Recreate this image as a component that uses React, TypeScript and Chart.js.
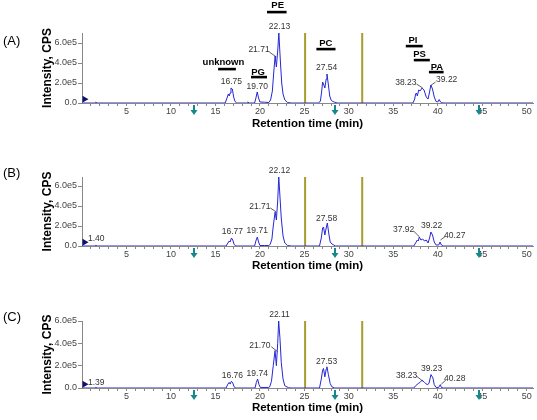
import React, { useEffect, useRef } from "react";
import { Chart, registerables } from "chart.js";

Chart.register(...registerables);

const FONT = '"Liberation Sans", Arial, sans-serif';

// ---------- data (intensity in units of 1e5 CPS, time in min) ----------
const traceA: [number, number][] = [
  [0, 0], [1.4, 0], [1.55, 0.08], [1.7, 0], [16.1, 0], [16.3, 0.5], [16.45, 0.9], [16.55, 0.7],
  [16.65, 1.0], [16.75, 1.5], [16.9, 1.4], [17.05, 0.6], [17.2, 0.15], [17.4, 0], [18.5, 0],
  [18.65, 0.1], [18.8, 0], [19.4, 0], [19.55, 0.5], [19.7, 1.1], [19.85, 0.5], [20.0, 0.1],
  [20.5, 0.08], [21.0, 0.05], [21.2, 0.3], [21.4, 1.2], [21.55, 3.0], [21.71, 4.7], [21.85, 3.6],
  [22.0, 5.2], [22.13, 7.0], [22.3, 4.2], [22.45, 2.0], [22.6, 0.9], [22.8, 0.3], [23.1, 0.05],
  [23.5, 0], [26.6, 0], [26.8, 0.2], [26.95, 1.2], [27.05, 2.1], [27.15, 1.9], [27.3, 1.5],
  [27.45, 2.4], [27.54, 2.9], [27.7, 1.8], [27.85, 0.7], [28.0, 0.3], [28.2, 0.15], [28.4, 0.08],
  [28.7, 0], [37.2, 0], [37.4, 0.4], [37.5, 0.9], [37.6, 1.0], [37.7, 0.7], [37.85, 1.3],
  [38.0, 1.2], [38.23, 1.5], [38.45, 1.3], [38.7, 0.6], [38.9, 0.4], [39.05, 1.0], [39.22, 1.8],
  [39.4, 1.4], [39.6, 0.6], [39.8, 0.15], [40.0, 0.1], [40.15, 0.35], [40.3, 0.1], [40.45, 0.02],
  [40.7, 0], [50.7, 0],
];

const traceB: [number, number][] = [
  [0, 0], [1.4, 0], [1.55, 0.06], [1.7, 0], [16.2, 0], [16.4, 0.3], [16.55, 0.5], [16.65, 0.4],
  [16.8, 0.8], [16.95, 0.6], [17.1, 0.15], [17.3, 0], [19.4, 0], [19.58, 0.6], [19.71, 0.9],
  [19.85, 0.4], [20.0, 0.05], [20.5, 0.05], [21.0, 0.05], [21.15, 0.15], [21.35, 0.7], [21.5, 2.0],
  [21.71, 3.4], [21.85, 2.6], [22.0, 4.5], [22.12, 6.9], [22.25, 5.0], [22.4, 2.8], [22.6, 1.0],
  [22.8, 0.3], [23.1, 0.05], [23.5, 0], [26.7, 0], [26.9, 0.8], [27.05, 1.8], [27.15, 1.9],
  [27.3, 1.1], [27.45, 1.8], [27.58, 2.3], [27.75, 1.2], [27.9, 0.4], [28.1, 0.2], [28.3, 0.1],
  [28.5, 0], [37.3, 0], [37.5, 0.3], [37.7, 0.6], [37.8, 0.5], [37.92, 0.9], [38.1, 0.6],
  [38.3, 0.7], [38.5, 0.5], [38.7, 0.6], [38.9, 0.3], [39.1, 0.9], [39.22, 1.4], [39.4, 1.1],
  [39.6, 0.4], [39.8, 0.1], [40.1, 0.1], [40.25, 0.4], [40.4, 0.1], [40.6, 0], [50.7, 0],
];

const traceC: [number, number][] = [
  [0, 0], [1.4, 0], [1.55, 0.05], [1.7, 0], [16.2, 0], [16.4, 0.35], [16.55, 0.5], [16.65, 0.35],
  [16.8, 0.6], [16.95, 0.45], [17.1, 0.1], [17.3, 0], [19.45, 0], [19.6, 0.5], [19.74, 0.8],
  [19.9, 0.3], [20.05, 0.05], [21.0, 0.05], [21.1, 0.1], [21.3, 0.6], [21.5, 2.0], [21.7, 3.35],
  [21.85, 2.0], [22.0, 4.0], [22.11, 6.0], [22.25, 4.5], [22.4, 2.3], [22.6, 0.8], [22.8, 0.2],
  [23.2, 0.03], [23.5, 0], [26.7, 0], [26.9, 0.8], [27.05, 1.6], [27.15, 1.75], [27.3, 1.0],
  [27.45, 1.7], [27.53, 1.9], [27.7, 1.2], [27.9, 0.4], [28.1, 0.1], [28.4, 0], [37.3, 0],
  [37.5, 0.2], [37.8, 0.4], [38.0, 0.5], [38.23, 0.7], [38.5, 0.5], [38.8, 0.3], [39.0, 0.4],
  [39.23, 1.2], [39.45, 0.9], [39.6, 0.3], [39.8, 0.05], [40.1, 0.05], [40.28, 0.3], [40.4, 0.05],
  [40.6, 0], [50.7, 0],
];

// peak labels: [text, x, y]
const peakLabelsA: [string, number, number][] = [
  ["16.75", 16.8, 2.1], ["19.70", 19.7, 1.6], ["21.71", 19.9, 5.3], ["22.13", 22.2, 7.6],
  ["27.54", 27.5, 3.5], ["38.23", 36.4, 2.0], ["39.22", 41.0, 2.3],
];
const peakLabelsB: [string, number, number][] = [
  ["1.40", 1.6, 0.7], ["16.77", 16.9, 1.4], ["19.71", 19.7, 1.5], ["21.71", 20.0, 3.9],
  ["22.12", 22.2, 7.5], ["27.58", 27.5, 2.7], ["37.92", 36.15, 1.6], ["39.22", 39.3, 2.0],
  ["40.27", 41.9, 1.0],
];
const peakLabelsC: [string, number, number][] = [
  ["1.39", 1.6, 0.45], ["16.76", 16.9, 1.15], ["19.74", 19.7, 1.24], ["21.70", 20.0, 3.8],
  ["22.11", 22.2, 6.6], ["27.53", 27.5, 2.4], ["38.23", 36.5, 1.15], ["39.23", 39.3, 1.77],
  ["40.28", 41.9, 0.8],
];

// leader lines: [x1, y1, x2, y2]
const leadersA: [number, number, number, number][] = [
  [21.06, 5.1, 21.85, 4.6], [37.6, 1.9, 38.3, 1.5], [39.75, 2.1, 39.2, 1.75],
];
const leadersB: [number, number, number, number][] = [
  [21.17, 3.8, 21.85, 3.4], [37.27, 1.5, 37.95, 0.9], [40.3, 0.6, 40.9, 1.0],
];
const leadersC: [number, number, number, number][] = [
  [21.28, 3.7, 21.96, 3.27], [37.6, 1.07, 38.3, 0.62], [40.4, 0.35, 40.9, 0.7],
];

// lipid class labels (panel A): [text, textX, textY, barX1, barX2, barY]
const classLabelsA: [string, number, number, number, number, number][] = [
  ["unknown", 15.9, 4.1, 15.3, 17.3, 3.4],
  ["PG", 19.8, 3.1, 19.0, 20.8, 2.6],
  ["PE", 22.0, 9.8, 20.8, 23.0, 9.1],
  ["PC", 27.4, 6.0, 26.35, 28.5, 5.4],
  ["PI", 37.2, 6.3, 36.4, 38.3, 5.7],
  ["PS", 37.95, 4.9, 37.3, 39.1, 4.3],
  ["PA", 39.9, 3.6, 39.0, 40.65, 3.1],
];

const dividerTimes = [25.08, 31.5];
const arrowTimes = [12.6, 28.4, 44.6];
const xMajorTicks = [5, 10, 15, 20, 25, 30, 35, 40, 45, 50];
const xMinorTicks = Array.from({ length: 50 }, (_, i) => i + 1);
const yTicks = [0, 2, 4, 6];
const X_MAX = 50.7;

type PanelProps = {
  label: string;
  labelY: number;
  trace: [number, number][];
  peaks: [string, number, number][];
  leaders: [number, number, number, number][];
  classes: [string, number, number, number, number, number][];
  yMax: number;
  padTop: number;
  xHeight: number;
  titlePad: number;
  top: number;
};

function Panel(p: PanelProps) {
  const ref = useRef<HTMLCanvasElement>(null);
  useEffect(() => {
    if (!ref.current) return;
    const decor = {
      id: "decor",
      beforeDatasetsDraw(chart: any) {
        const { ctx, chartArea, scales } = chart;
        ctx.save();
        ctx.strokeStyle = "#a89c2c";
        ctx.lineWidth = 2;
        for (const t of dividerTimes) {
          const px = scales.x.getPixelForValue(t);
          ctx.beginPath();
          ctx.moveTo(px, chartArea.top);
          ctx.lineTo(px, chartArea.bottom);
          ctx.stroke();
        }
        ctx.restore();
      },
      afterDraw(chart: any) {
        const { ctx, chartArea, scales } = chart;
        const X = scales.x, Y = scales.y;
        ctx.save();
        // arrows
        ctx.fillStyle = "#16888a";
        ctx.strokeStyle = "#16888a";
        for (const t of arrowTimes) {
          const px = Math.round(X.getPixelForValue(t));
          const y0 = chartArea.bottom + 2;
          ctx.fillRect(px - 1, y0, 2, 6);
          ctx.beginPath();
          ctx.moveTo(px - 3.5, y0 + 5);
          ctx.lineTo(px + 3.5, y0 + 5);
          ctx.lineTo(px, y0 + 10);
          ctx.closePath();
          ctx.fill();
        }
        // panel label
        ctx.fillStyle = "#000";
        ctx.font = `13px ${FONT}`;
        ctx.textAlign = "left";
        ctx.textBaseline = "middle";
        ctx.fillText(p.label, 3, p.labelY);
        // peak labels
        ctx.fillStyle = "#333";
        ctx.font = `8.5px ${FONT}`;
        ctx.textAlign = "center";
        for (const [t, x, y] of p.peaks) {
          ctx.fillText(t, X.getPixelForValue(x), Y.getPixelForValue(y));
        }
        // leaders
        ctx.strokeStyle = "#333";
        ctx.lineWidth = 0.8;
        for (const [x1, y1, x2, y2] of p.leaders) {
          ctx.beginPath();
          ctx.moveTo(X.getPixelForValue(x1), Y.getPixelForValue(y1));
          ctx.lineTo(X.getPixelForValue(x2), Y.getPixelForValue(y2));
          ctx.stroke();
        }
        // class labels
        ctx.fillStyle = "#000";
        ctx.font = `bold 9.5px ${FONT}`;
        for (const [t, tx, ty, b1, b2, by] of p.classes) {
          ctx.fillText(t, X.getPixelForValue(tx), Y.getPixelForValue(ty));
          const py = Y.getPixelForValue(by);
          const x1 = X.getPixelForValue(b1), x2 = X.getPixelForValue(b2);
          ctx.fillRect(x1, py - 1.2, x2 - x1, 2.6);
        }
        ctx.restore();
      },
    };
    const chart = new Chart(ref.current, {
      type: "line",
      data: {
        datasets: [
          {
            data: p.trace.map(([x, y]) => ({ x, y })),
            borderColor: "#2626d6",
            borderWidth: 1,
            pointRadius: 0,
            tension: 0,
            fill: false,
          },
          {
            data: [{ x: 0.28, y: p.yMax * 0.055 }],
            showLine: false,
            pointStyle: "triangle",
            rotation: 90,
            pointRadius: 4,
            backgroundColor: "#10106e",
            borderColor: "#10106e",
            borderWidth: 0,
            clip: false,
          } as any,
        ],
      },
      options: {
        animation: false,
        responsive: false,
        maintainAspectRatio: false,
        layout: { padding: { top: p.padTop, right: 4, left: 0, bottom: 0 } },
        plugins: { legend: { display: false }, tooltip: { enabled: false } },
        scales: {
          x: {
            type: "linear",
            min: 0,
            max: X_MAX,
            afterBuildTicks: (s: any) => {
              s.ticks = xMinorTicks.map((v) => ({ value: v }));
            },
            afterFit: (s: any) => {
              s.height = p.xHeight;
            },
            ticks: {
              autoSkip: false,
              maxRotation: 0,
              padding: 0,
              color: "#444",
              font: { size: 9, family: FONT },
              callback: (v: any) => (xMajorTicks.includes(v) ? String(v) : ""),
            },
            grid: { drawOnChartArea: false, drawTicks: true, tickLength: 3, color: "#888" },
            border: { color: "#888", width: 1 },
            title: {
              display: true,
              text: "Retention time (min)",
              color: "#000",
              font: { size: 11.5, weight: "bold", family: FONT },
              padding: { top: 0, bottom: p.titlePad },
            },
          },
          y: {
            min: 0,
            max: p.yMax,
            afterBuildTicks: (s: any) => {
              s.ticks = yTicks.filter((v) => v <= p.yMax).map((v) => ({ value: v }));
            },
            afterFit: (s: any) => {
              s.width = 82;
            },
            ticks: {
              padding: 1,
              color: "#444",
              font: { size: 9, family: FONT },
              callback: (v: any) => (v === 0 ? "0.0" : Number(v).toFixed(1) + "e5"),
            },
            grid: { drawOnChartArea: false, drawTicks: true, tickLength: 4, color: "#888" },
            border: { color: "#888", width: 1 },
            title: {
              display: true,
              text: "Intensity, CPS",
              color: "#000",
              font: { size: 12, weight: "bold", family: FONT },
              padding: { top: 40, bottom: 0 },
            },
          },
        },
      },
      plugins: [decor],
    } as any);
    return () => chart.destroy();
  }, []);
  return (
    <canvas
      ref={ref}
      width={537}
      height={140}
      style={{ position: "absolute", left: 0, top: p.top, width: 537, height: 140 }}
    />
  );
}

export default function App() {
  return (
    <div style={{ position: "fixed", left: 0, top: 0, width: 537, height: 420, background: "#fff" }}>
      <Panel label="(A)" labelY={41} trace={traceA} peaks={peakLabelsA} leaders={leadersA}
        classes={classLabelsA} yMax={7.0} padTop={33} xHeight={37} titlePad={9} top={0} />
      <Panel label="(B)" labelY={33} trace={traceB} peaks={peakLabelsB} leaders={leadersB}
        classes={[]} yMax={6.9} padTop={37} xHeight={34} titlePad={7} top={140} />
      <Panel label="(C)" labelY={37} trace={traceC} peaks={peakLabelsC} leaders={leadersC}
        classes={[]} yMax={6.0} padTop={41} xHeight={32} titlePad={5} top={280} />
    </div>
  );
}
